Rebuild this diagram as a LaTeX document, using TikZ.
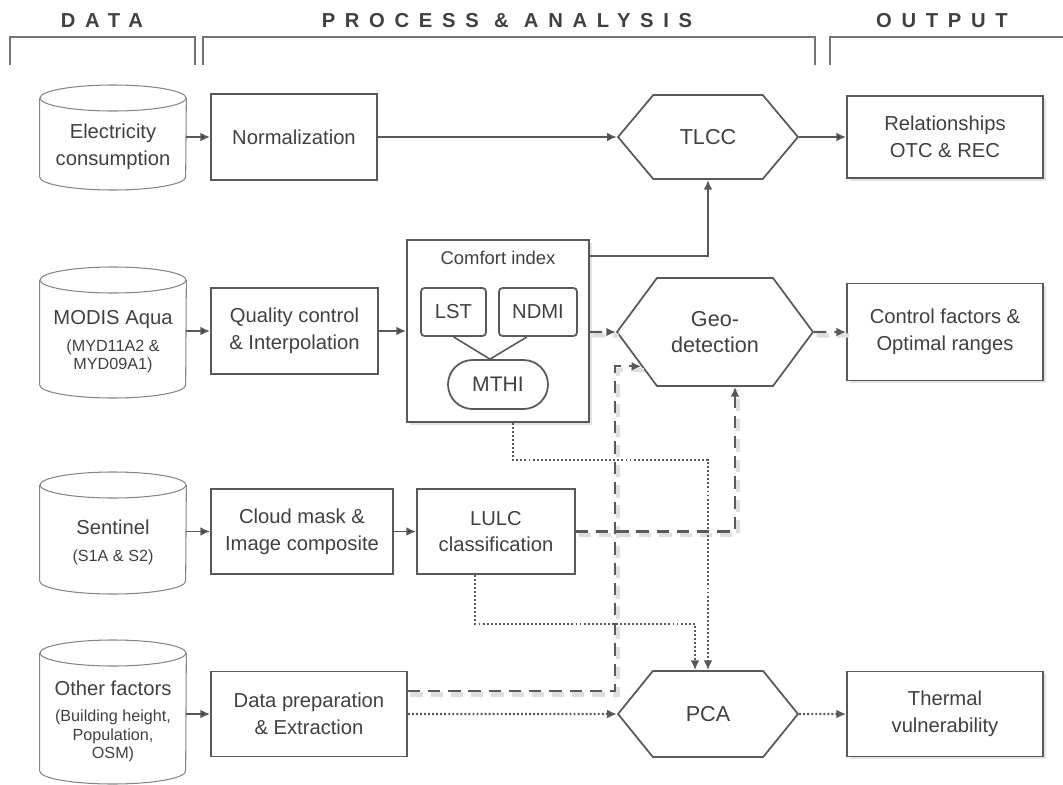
\documentclass[tikz,border=0pt]{standalone}
\usepackage{fontspec}
\setmainfont{Liberation Sans}
\newfontfamily\hdrfont[LetterSpace=48]{Liberation Sans}
\usepackage{tikz}
\usetikzlibrary{arrows.meta,positioning,calc}
\usetikzlibrary{shapes.geometric,shapes.symbols,shadows}
\definecolor{ln}{HTML}{595959}
\definecolor{tx}{HTML}{404040}
\definecolor{cyl}{HTML}{858585}
\tikzset{font=\fontsize{11.5}{15.3}\selectfont}
\tikzstyle{procbox}=[draw=ln,line width=1pt,text=tx,align=center,inner sep=0pt]
\tikzstyle{outbox}=[procbox,fill=white,drop shadow={shadow xshift=1.6pt,shadow yshift=-1.6pt,fill=black!22}]
\tikzstyle{hexa}=[procbox,shape=signal,signal to=east and west,font=\fontsize{12.3}{15.3}\selectfont]
\tikzstyle{dbase}=[text=tx,align=center,minimum width=2.92cm,inner sep=0pt]
\tikzstyle{hdr}=[text=tx,font=\hdrfont\fontsize{11.5}{13}\selectfont\bfseries]
\tikzstyle{brk}=[draw=black!55,line width=0.7pt]
\tikzstyle{cylln}=[draw=cyl,line width=0.6pt]
\tikzstyle{solln}=[draw=ln,line width=1.1pt]
\tikzstyle{dshln}=[solln,line width=1.3pt,dash pattern=on 7pt off 4.5pt,preaction={draw=black!13,arrows=-,line width=2.4pt,dash pattern=on 7pt off 4.5pt,transform canvas={xshift=1.5pt,yshift=-2pt}}]
\tikzstyle{dotln}=[solln,line width=1.2pt,dash pattern=on 1.1pt off 1.2pt]
\newcommand{\subf}{\fontsize{9.2}{10.2}\selectfont}
\newcommand{\drum}[3]{%
  \draw[cylln] (#1.west |- 0,#2) -- (#1.west |- 0,#3)
    arc[start angle=180,end angle=360,x radius=73,y radius=13] -- (#1.east |- 0,#2);
  \draw[cylln] (#1.center |- 0,#2) ellipse[x radius=73,y radius=13];}

\begin{document}
\begin{tikzpicture}[x=0.02cm,y=0.02cm,>={Latex[length=5.5pt,width=5pt]}]
\useasboundingbox (0,0) rectangle (1063,-785);

% column heads
\node[hdr] (hD) at (102,-21) {DATA};
\node[hdr] (hP) at (507,-21) {PROCESS \& ANALYSIS};
\node[hdr] (hO) at (942,-21) {OUTPUT};
\draw[brk] (10,-65) |- (195,-37) -- (195,-65);
\draw[brk] (203,-65) |- (815,-37) -- (815,-65);
\draw[brk] (830,-65) |- (1063,-37);

% data sources
\node[dbase] (E) at (113,-147) {Electricity\\consumption};
\node[dbase] (M) at (113,-341.5) {MODIS Aqua\\\subf(MYD11A2 \&\\[-5pt]\subf MYD09A1)};
\node[dbase] (S) at (113,-542) {Sentinel\\\subf(S1A \& S2)};
\node[dbase] (O) at (113,-721) {Other factors\\\subf(Building height,\\[-5pt]\subf Population,\\[-5pt]\subf OSM)};
\drum{E}{-98}{-177}
\drum{M}{-280}{-385}
\drum{S}{-485}{-581}
\drum{O}{-653}{-771}

% processing
\node[procbox,minimum width=3.32cm,minimum height=1.72cm] (N) at (294,-137) {Normalization};
\node[procbox,minimum width=3.34cm,minimum height=1.72cm] (Q) at (294.5,-331) {Quality control\\\& Interpolation};
\node[procbox,minimum width=3.64cm,minimum height=1.70cm] (C) at (302,-531.5) {Cloud mask \&\\Image composite};
\node[procbox,minimum width=3.92cm,minimum height=1.70cm] (D) at (309,-714) {Data preparation\\\& Extraction};
\node[procbox,minimum width=3.16cm,minimum height=1.70cm] (L) at (496,-531.5) {LULC\\classification};

% comfort index
\node[procbox,fill=white,drop shadow={shadow xshift=1.6pt,shadow yshift=-1.6pt,fill=black!22},minimum width=3.64cm,minimum height=3.64cm] (K) at (498,-331) {};
\node[text=tx,font=\fontsize{10.5}{12}\selectfont] (Kt) at (498,-258) {Comfort index};
\node[procbox,rounded corners=2pt,minimum width=1.30cm,minimum height=0.96cm] (LST) at (453.5,-312) {LST};
\node[procbox,rounded corners=2pt,minimum width=1.56cm,minimum height=0.96cm] (NDMI) at (538,-312) {NDMI};
\node[procbox,rounded corners=0.49cm,minimum width=2.00cm,minimum height=0.98cm,font=\fontsize{12}{14}\selectfont] (MTHI) at (498,-384.5) {MTHI};
\draw[ln,line width=0.9pt] (LST.south) -- ([xshift=-0.16cm]MTHI.north) -- ([xshift=-0.22cm]NDMI.south);

% analysis
\node[hexa,minimum width=3.60cm,minimum height=1.68cm,signal pointer angle=100] (T) at (708,-137) {TLCC};
\node[hexa,minimum width=3.92cm,minimum height=2.16cm,signal pointer angle=107] (G) at (715,-332) {Geo-\\detection};
\node[hexa,minimum width=3.60cm,minimum height=1.72cm,signal pointer angle=102] (P) at (708,-714) {PCA};

% outputs
\node[outbox,minimum width=3.92cm,minimum height=1.64cm] (R) at (945,-137) {Relationships\\OTC \& REC};
\node[outbox,minimum width=3.92cm,minimum height=1.94cm] (F) at (945,-332) {Control factors \&\\Optimal ranges};
\node[outbox,minimum width=3.92cm,minimum height=1.70cm] (V) at (945,-714) {Thermal\\vulnerability};

\path[solln,every edge/.append style={->}]
(E.east |- N) edge (N)
(M.east |- Q) edge (Q)
(S.east |- C) edge (C)
(O.east |- D) edge (D)
(Q) edge (K)
(C) edge (L)
(N) edge (T)
(T) edge (R);
\draw[solln,->] ($(K.north east)+(0,-17)$) -| (T);

\draw[dshln,->] (K.east |- G) -- (G);
\draw[dshln,->] (G) -- (F);
\draw[dshln,->] (D.east |- 0,-691) -- (615,-691) |- (G.205);
\draw[dshln,->] (L) -| ([xshift=0.4cm]G.south);

\draw[dotln,->] ([xshift=0.3cm]K.south) -- ++(0,-37) -| (P);
\draw[dotln,->] ([xshift=-0.42cm]L.south) -- ++(0,-49) -| ([xshift=-0.26cm]P.north);
\draw[dotln,->] (D.east |- P) -- (P);
\draw[dotln,->] (P) -- (V);
\end{tikzpicture}
\end{document}
